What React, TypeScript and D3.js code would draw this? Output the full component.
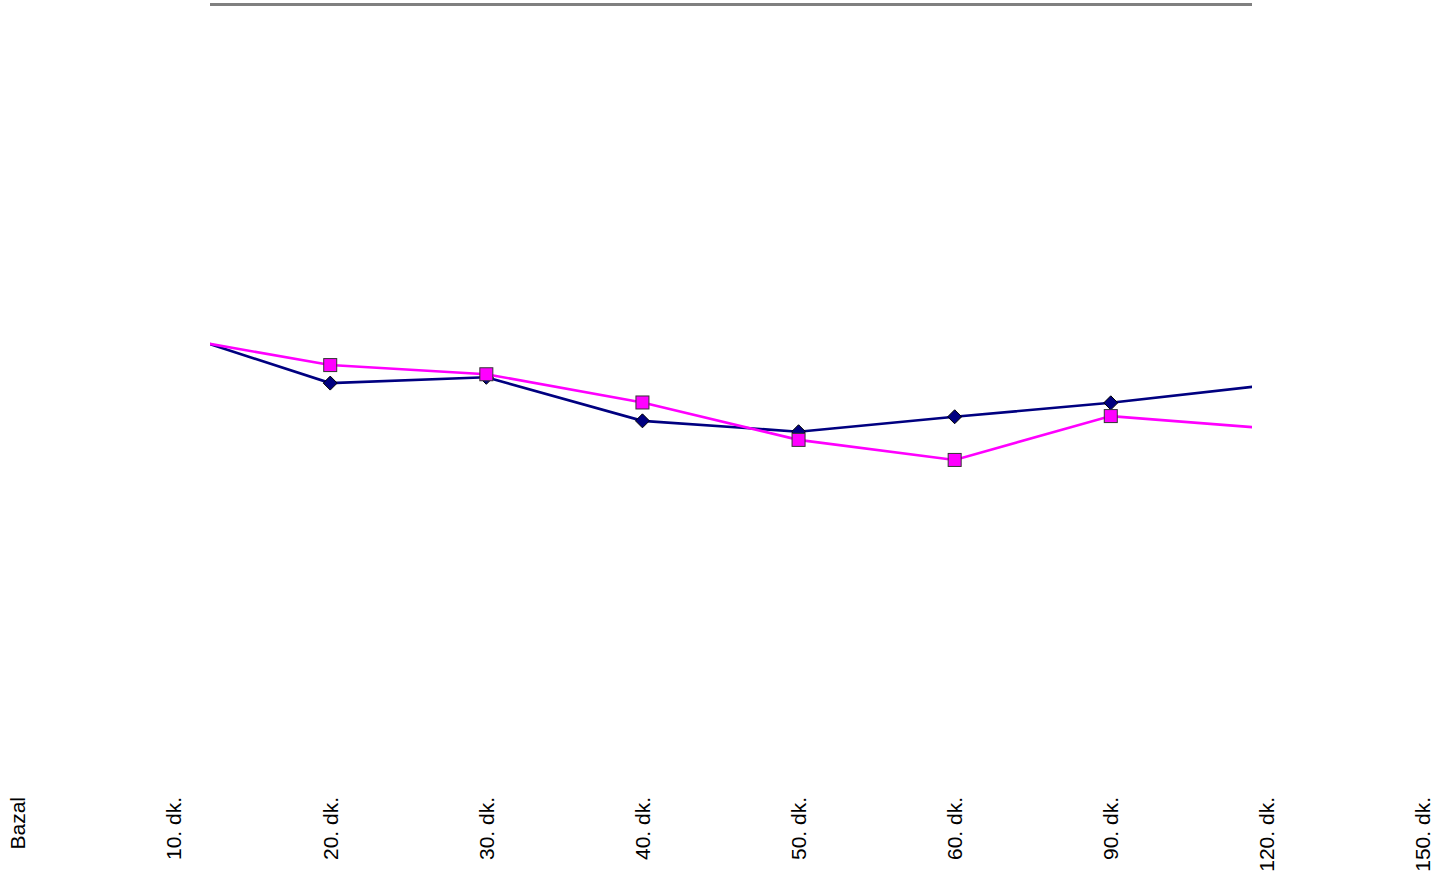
import React from "react";
import * as d3 from "d3";

// Time points of the measurement series
const categories = ["Bazal", "10. dk.", "20. dk.", "30. dk.", "40. dk.", "50. dk.", "60. dk.", "90. dk.", "120. dk.", "150. dk."];

// Relative values (%) for the two series; 150. dk. has no reading
const seriesNavy = [100, 103.4, 88.5, 90.2, 77.4, 74.2, 78.6, 82.7, 87.9, null];
const seriesMagenta = [100, 101.9, 93.8, 91.1, 82.8, 71.8, 65.9, 78.8, 75.2, null];

const W = 1437;
const H = 883;

export default function App() {
  const x = d3.scalePoint<string>().domain(categories).range([18, 1423]);
  const y = d3.scaleLinear().domain([0, 200]).range([684, 4]);

  const plotLeft = 210;
  const plotRight = 1252;
  const plotTop = 4;
  const plotBottom = 780;

  const line = d3
    .line<number | null>()
    .defined((d) => d != null)
    .x((_, i) => x(categories[i]) as number)
    .y((d) => y(d as number));

  const pts = (vals: (number | null)[]) =>
    vals
      .map((v, i) => ({ v, c: categories[i] }))
      .filter((p) => p.v != null && (x(p.c) as number) >= plotLeft && (x(p.c) as number) <= plotRight);

  const sq = 13;
  const dm = 7;

  return (
    <svg
      width={W}
      height={H}
      style={{ position: "absolute", left: 0, top: 0, background: "#ffffff" }}
      fontFamily="'Liberation Sans', Arial, sans-serif"
    >
      <defs>
        <clipPath id="plot-clip">
          <rect x={plotLeft} y={0} width={plotRight - plotLeft} height={plotBottom} />
        </clipPath>
      </defs>

      {/* top border of the plot area */}
      <line x1={plotLeft} x2={plotRight} y1={plotTop + 0.5} y2={plotTop + 0.5} stroke="#808080" strokeWidth={3} />

      <g clipPath="url(#plot-clip)">
        <path d={line(seriesNavy) ?? ""} fill="none" stroke="#000080" strokeWidth={2.6} />
        <path d={line(seriesMagenta) ?? ""} fill="none" stroke="#FF00FF" strokeWidth={2.6} />

        {pts(seriesNavy).map((p) => {
          const cx = x(p.c) as number;
          const cy = y(p.v as number);
          return (
            <path
              key={"n" + p.c}
              d={`M${cx},${cy - dm}L${cx + dm},${cy}L${cx},${cy + dm}L${cx - dm},${cy}Z`}
              fill="#000080"
              stroke="#000000"
              strokeWidth={1}
            />
          );
        })}
        {pts(seriesMagenta).map((p) => {
          const cx = x(p.c) as number;
          const cy = y(p.v as number);
          return (
            <rect
              key={"m" + p.c}
              x={cx - sq / 2}
              y={cy - sq / 2}
              width={sq}
              height={sq}
              fill="#FF00FF"
              stroke="#333333"
              strokeWidth={1}
            />
          );
        })}
      </g>

      {/* category labels */}
      {categories.map((c) => {
        const cx = x(c) as number;
        return (
          <text
            key={c}
            transform={`translate(${cx},797) rotate(-90)`}
            textAnchor="end"
            dy="0.35em"
            fontSize={21}
            fill="#000000"
          >
            {c}
          </text>
        );
      })}
    </svg>
  );
}
